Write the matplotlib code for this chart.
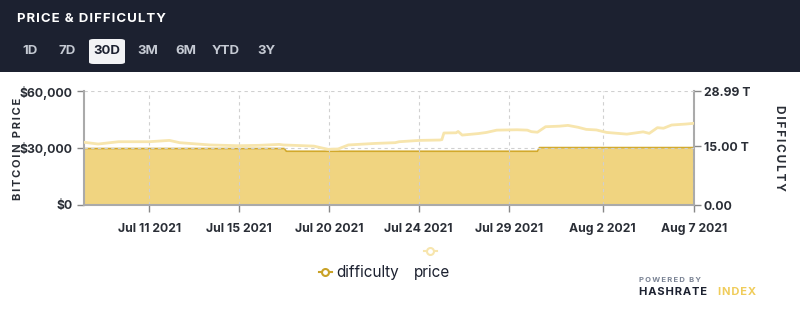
"""Price & difficulty panel, 30D view (Jul 8 - Aug 7 2021)."""
import matplotlib
matplotlib.use("Agg")
import matplotlib.pyplot as plt
from matplotlib.patches import Rectangle, FancyBboxPatch
from matplotlib.lines import Line2D

# ---- data (x in days from the left edge of the plot, 0..30) ----
price_t = [0.0, 0.7, 1.7, 3.2, 4.2, 4.7, 6.2, 7.6, 8.6, 9.6, 9.8, 11.3,
           12.0, 12.5, 13.0, 14.3, 15.3, 15.5, 16.5, 17.5, 17.6, 17.7,
           18.3, 18.4, 18.6, 19.1, 19.4, 19.8, 20.3, 21.3, 21.8, 22.0,
           22.3, 22.7, 23.4, 23.8, 24.3, 24.7, 25.2, 25.7, 26.7, 27.5,
           27.8, 28.2, 28.5, 28.9, 29.6, 30.0]
price = [33000, 32100, 33300, 33300, 34000, 32800, 31600, 31200, 31400,
         31900, 31600, 31000, 29300, 29500, 31600, 32400, 32800, 33300,
         34000, 34200, 34400, 37900, 38000, 38700, 36800, 37300, 37600,
         38200, 39400, 39600, 39400, 38600, 38300, 41200, 41500, 41900,
         40900, 39800, 39500, 38200, 37300, 38500, 37700, 40700, 40400,
         42100, 42600, 43000]

diff_t = [0.0, 9.85, 9.95, 22.3, 22.4, 30.0]
difficulty = [14.36, 14.36, 13.67, 13.67, 14.6, 14.6]   # T

tick_pos = [3.21, 7.61, 12.06, 16.46, 20.9, 25.5, 30.0]
tick_lab = ["Jul 11 2021", "Jul 15 2021", "Jul 20 2021", "Jul 24 2021",
            "Jul 29 2021", "Aug 2 2021", "Aug 7 2021"]
ranges = ["1D", "7D", "30D", "3M", "6M", "YTD", "3Y"]
range_x = [30, 67, 107, 148, 186, 226, 266]

plt.rcParams["font.family"] = ["Inter", "DejaVu Sans"]

W, H = 800, 315
fig = plt.figure(figsize=(W / 100, H / 100), dpi=100)
fig.patch.set_facecolor("white")


def fx(px):
    return px / W


def fy(py):
    return 1 - py / H


def spaced(s, gap="\u200a"):
    return gap.join(s)


# ---- dark header ----
fig.patches.append(Rectangle((0, fy(72)), 1, 72 / H, transform=fig.transFigure,
                             facecolor="#1c2130", edgecolor="none", zorder=0))
fig.text(fx(17), fy(19), spaced("PRICE & DIFFICULTY"), color="white",
         fontsize=9.5, fontweight="bold", va="center", ha="left")
fig.patches.append(FancyBboxPatch((fx(89), fy(64)), fx(36), 25 / H,
                                  boxstyle="round,pad=0,rounding_size=0.006",
                                  transform=fig.transFigure,
                                  facecolor="#f2f3f5", edgecolor="none", zorder=1))
for lab, x in zip(ranges, range_x):
    col = "#1c2130" if lab == "30D" else "#c5cad3"
    fig.text(fx(x), fy(51), lab, color=col, fontsize=9.5, fontweight="bold",
             ha="center", va="center", zorder=2)

# ---- chart ----
ax = fig.add_axes([fx(84), fy(205), fx(694 - 84), (205 - 91) / H])
ax2 = ax.twinx()

ax.set_xlim(0, 30)
ax.set_ylim(0, 60000)
ax2.set_ylim(0, 28.99)

ax2.fill_between(diff_t, difficulty, color="#f0d480", linewidth=0, zorder=1)
ax2.plot(diff_t, difficulty, color="#d2a92c", linewidth=1.2, zorder=2)
ax.plot(price_t, price, color="#f7e5ad", linewidth=2, zorder=3,
        solid_joinstyle="round")
ax.set_zorder(2)
ax.patch.set_visible(False)

ax.set_yticks([0, 30000, 60000])
ax.set_yticklabels(["$0", "$30,000", "$60,000"])
ax2.set_yticks([0, 15, 28.99])
ax2.set_yticklabels(["0.00", "15.00 T", "28.99 T"])
ax.set_xticks(tick_pos)
ax.set_xticklabels(tick_lab)

ax.grid(True, color="#d0d0d0", linestyle=(0, (3, 3)), linewidth=0.8)
ax.set_axisbelow(True)

for a in (ax, ax2):
    for s in a.spines.values():
        s.set_visible(False)
    a.tick_params(colors="#888888", labelsize=8.8, length=5, width=1,
                  labelcolor="#2a2e36")
    for lbl in a.get_yticklabels() + a.get_xticklabels():
        lbl.set_fontweight("bold")
for a, side in ((ax, "left"), (ax2, "right"), (ax, "bottom")):
    a.spines[side].set_visible(True)
    a.spines[side].set_color("#aaaaaa")
    a.spines[side].set_linewidth(1.5)
ax.tick_params(axis="x", pad=8)
ax.tick_params(axis="y", pad=3)
ax2.tick_params(axis="y", pad=2)

fig.text(fx(18), fy(149), spaced("BITCOIN PRICE", "\u2009"), rotation=90,
         fontsize=8, fontweight="bold", color="#2a2e36",
         ha="center", va="center")
fig.text(fx(779), fy(148), spaced("DIFFICULTY", "\u2009"), rotation=-90,
         fontsize=8.5, fontweight="bold", color="#2a2e36",
         ha="center", va="center")

# ---- legend ----
def legend_key(x, y, color):
    fig.add_artist(Line2D([fx(x - 6.5), fx(x + 6.5)], [fy(y), fy(y)],
                          transform=fig.transFigure, color=color, linewidth=1.5))
    fig.add_artist(Line2D([fx(x)], [fy(y)], transform=fig.transFigure,
                          marker="o", markersize=5, markerfacecolor="white",
                          markeredgecolor=color, markeredgewidth=1.5))


legend_key(325, 272, "#c9a227")
fig.text(fx(336), fy(272), "difficulty", fontsize=11, color="#1c2130",
         ha="left", va="center")
fig.text(fx(414), fy(272), "price", fontsize=11, color="#1c2130",
         ha="left", va="center")
legend_key(430, 251, "#f7e5ad")

# ---- branding ----
fig.text(fx(639), fy(280), spaced("POWERED BY", "\u2009"), fontsize=5.5,
         color="#7a8394", ha="left", va="center", fontweight="bold")
fig.text(fx(639), fy(292), spaced("HASHRATE"), fontsize=8,
         color="#1c2130", ha="left", va="center", fontweight="bold")
fig.text(fx(718), fy(292), spaced("INDEX"), fontsize=8,
         color="#f0cc5a", ha="left", va="center", fontweight="bold")

fig.savefig("out.png", dpi=100)
